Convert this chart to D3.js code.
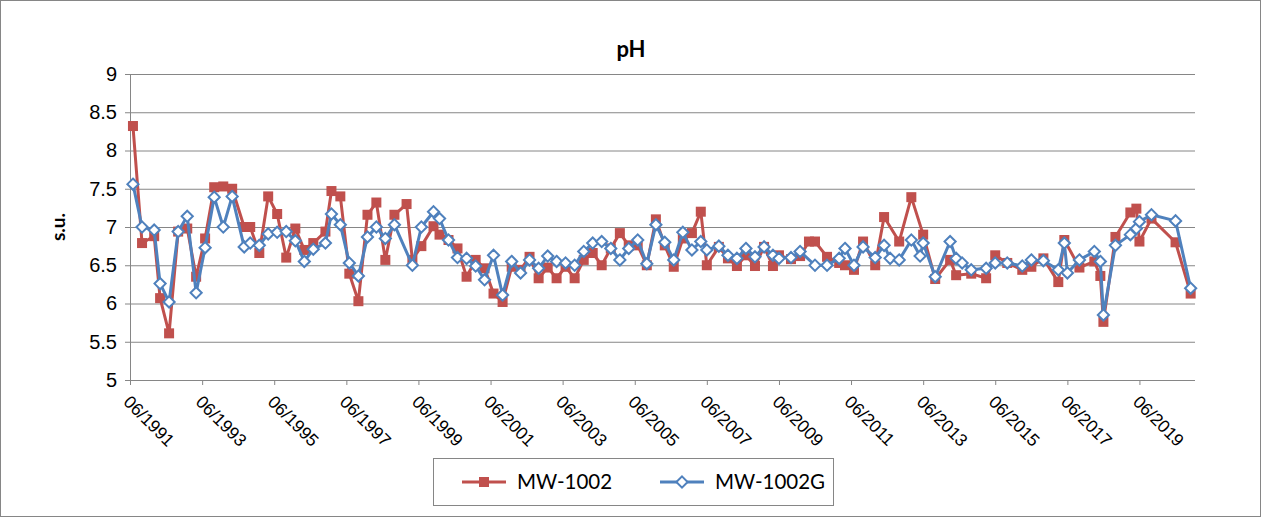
<!DOCTYPE html>
<html>
<head>
<meta charset="utf-8">
<script src="https://cdn.jsdelivr.net/npm/d3@7"></script>
<style>
	body { margin: 0; background: #fff; }
	svg { font-family: Lato, "Liberation Sans", sans-serif; }
</style>
</head>
<body>
<div id="chart"></div>
<script>
	// sample dates (year-month), shared by both wells; null = not sampled
	var sampleDates = [
		'1991-07','1991-10','1992-02','1992-04','1992-07','1992-10','1993-01','1993-04','1993-07','1993-10',
		'1994-01','1994-04','1994-08','1994-10','1995-01','1995-04','1995-07','1995-10','1996-01','1996-04',
		'1996-07','1996-11','1997-01','1997-04','1997-07','1997-10','1998-01','1998-04','1998-07','1998-10',
		'1999-02','1999-04','1999-07','1999-11','2000-01','2000-04','2000-07','2000-10','2001-01','2001-04',
		'2001-07','2001-10','2002-01','2002-04','2002-07','2002-10','2003-01','2003-04','2003-07','2003-10',
		'2004-01','2004-04','2004-07','2004-10','2005-01','2005-04','2005-07','2005-10','2006-01','2006-04',
		'2006-07','2006-10','2007-01','2007-04','2007-06','2007-10','2008-01','2008-04','2008-07','2008-10',
		'2009-01','2009-04','2009-06','2009-10','2010-01','2010-04','2010-06','2010-10','2011-02','2011-04',
		'2011-07','2011-10','2012-02','2012-05','2012-07','2012-10','2013-02','2013-05','2013-06','2013-10',
		'2014-03','2014-05','2014-07','2014-10','2015-03','2015-06','2015-10','2016-03','2016-06','2016-10',
		'2017-03','2017-05','2017-06','2017-10','2018-03','2018-05','2018-06','2018-10','2019-03','2019-05',
		'2019-06','2019-10','2020-06','2020-11'
	];

	var mw1002 = [
		8.32,6.79,6.88,6.07,5.61,6.94,6.98,6.35,6.85,7.52,
		7.53,7.50,7.00,7.00,6.66,7.40,7.17,6.60,6.98,6.70,
		6.79,6.94,7.47,7.40,6.39,6.03,7.16,7.32,6.57,7.16,
		7.30,6.57,6.75,7.01,6.90,6.83,6.72,6.35,6.57,6.46,
		6.13,6.02,6.48,6.44,6.61,6.33,6.47,6.33,6.48,6.33,
		6.57,6.66,6.50,6.72,6.92,6.76,6.76,6.50,7.10,6.76,
		6.48,6.85,6.92,7.20,6.50,6.74,6.59,6.49,6.63,6.49,
		6.74,6.49,6.63,6.58,6.62,6.81,6.81,6.61,6.53,6.50,
		6.44,6.81,6.50,7.13,null,6.81,7.39,null,6.90,6.32,
		6.57,6.37,null,6.39,6.33,6.63,6.53,6.44,6.48,6.59,
		6.28,6.83,null,6.47,6.55,6.36,5.76,6.87,7.19,7.24,
		6.81,7.11,6.80,6.13
	];

	var mw1002G = [
		7.56,7.00,6.96,6.26,6.02,6.94,7.14,6.14,6.73,7.39,
		7.00,7.40,6.74,6.79,6.76,6.91,6.93,6.94,6.82,6.55,
		6.71,6.79,7.17,7.03,6.53,6.36,6.87,7.00,6.85,7.03,
		null,6.50,7.00,7.20,7.11,6.83,6.60,6.59,6.49,6.31,
		6.63,6.11,6.55,6.40,6.57,6.46,6.62,6.55,6.53,6.50,
		6.68,6.79,6.81,6.72,6.57,6.72,6.83,6.52,7.03,6.80,
		6.57,6.93,6.70,6.81,6.70,6.75,6.63,6.59,6.72,6.61,
		6.74,6.63,6.59,6.60,6.68,null,6.50,6.50,6.59,6.72,
		6.50,6.74,6.60,6.76,6.59,6.57,6.83,6.62,6.79,6.35,
		6.81,6.59,6.53,6.44,6.46,6.53,6.53,6.49,6.57,6.56,
		6.44,6.79,6.40,6.57,6.68,6.55,5.85,6.76,6.90,6.98,
		7.07,7.16,7.08,6.20
	];

	var seriesNames = ['MW-1002', 'MW-1002G'];
	var yTicks = [5, 5.5, 6, 6.5, 7, 7.5, 8, 8.5, 9];
	var xTicks = ['06/1991','06/1993','06/1995','06/1997','06/1999','06/2001','06/2003','06/2005',
		'06/2007','06/2009','06/2011','06/2013','06/2015','06/2017','06/2019'];

(function() {
	var width = 1262,
		height = 518,
		plotLeft = 130,
		plotRight = 1195,
		plotTop = 74,
		plotBottom = 380,
		gray = '#868686',
		red = '#C0504D',
		blue = '#4F81BD';

	var parseMonth = d3.timeParse('%Y-%m'),
		parseTick = d3.timeParse('%m/%Y');

	var x = d3.scaleTime()
		.domain([new Date(1991, 5, 1), new Date(2020, 11, 15)])
		.range([plotLeft, plotRight]);

	var y = d3.scaleLinear()
		.domain([5, 9])
		.range([plotBottom, plotTop]);

	var svg = d3.select('#chart')
		.append('svg')
		.attr('width', width)
		.attr('height', height);

	svg.append('rect')
		.attr('x', 0.5)
		.attr('y', 0.5)
		.attr('width', width - 2)
		.attr('height', height - 2)
		.attr('fill', '#fff')
		.attr('stroke', gray);

	// gridlines + y axis
	var yAxis = svg.append('g')
		.attr('transform', 'translate(' + plotLeft + ',0)')
		.call(d3.axisLeft(y)
			.tickValues(yTicks)
			.tickSize(-(plotRight - plotLeft))
			.tickFormat(d3.format('')));
	yAxis.select('.domain').attr('stroke', gray);
	yAxis.selectAll('.tick line').attr('stroke', gray).attr('x1', -5);
	yAxis.selectAll('.tick text')
		.attr('x', -13)
		.attr('fill', '#000')
		.style('font-size', '20px');

	// x axis
	var xAxis = svg.append('g')
		.attr('transform', 'translate(0,' + plotBottom + ')')
		.call(d3.axisBottom(x)
			.tickValues(xTicks.map(parseTick))
			.tickSize(5)
			.tickFormat(d3.timeFormat('%m/%Y')));
	xAxis.select('.domain').attr('stroke', gray).attr('d', 'M' + plotLeft + ',0.5H' + plotRight);
	xAxis.selectAll('.tick line').attr('stroke', gray);
	xAxis.selectAll('.tick text')
		.attr('fill', '#000')
		.attr('text-anchor', 'start')
		.attr('x', 0)
		.attr('y', 0)
		.attr('dy', 0)
		.attr('transform', 'translate(-8,23) rotate(45)')
		.style('font-size', '17.5px');

	// title + axis title
	svg.append('text')
		.attr('x', 631)
		.attr('y', 57)
		.attr('text-anchor', 'middle')
		.style('font-size', '22px')
		.style('font-weight', 'bold')
		.text('pH');

	svg.append('text')
		.attr('transform', 'translate(65,' + ((plotTop + plotBottom) / 2) + ') rotate(-90)')
		.attr('text-anchor', 'middle')
		.style('font-size', '19px')
		.style('font-weight', 'bold')
		.text('s.u.');

	var line = d3.line()
		.x(function(d) { return x(d.date); })
		.y(function(d) { return y(d.value); });

	function points(values)
	{
		return sampleDates
			.map(function(d, i) { return { date: parseMonth(d), value: values[i] }; })
			.filter(function(d) { return d.value != null; });
	}

	var redData = points(mw1002),
		blueData = points(mw1002G);

	var diamond = d3.symbol().type(d3.symbolDiamond2).size(80);

	// MW-1002
	svg.append('path')
		.attr('d', line(redData))
		.attr('fill', 'none')
		.attr('stroke', red)
		.attr('stroke-width', 3)
		.attr('stroke-linejoin', 'round');

	svg.append('g')
		.selectAll('rect')
		.data(redData)
		.enter()
		.append('rect')
		.attr('x', function(d) { return x(d.date) - 5; })
		.attr('y', function(d) { return y(d.value) - 5; })
		.attr('width', 10)
		.attr('height', 10)
		.attr('fill', red);

	// MW-1002G
	svg.append('path')
		.attr('d', line(blueData))
		.attr('fill', 'none')
		.attr('stroke', blue)
		.attr('stroke-width', 3)
		.attr('stroke-linejoin', 'round');

	svg.append('g')
		.selectAll('path')
		.data(blueData)
		.enter()
		.append('path')
		.attr('d', diamond)
		.attr('transform', function(d) {
			return 'translate(' + x(d.date) + ',' + y(d.value) + ')';
		})
		.attr('fill', '#fff')
		.attr('stroke', blue)
		.attr('stroke-width', 2);

	// legend
	var legend = svg.append('g');
	legend.append('rect')
		.attr('x', 433.5)
		.attr('y', 458.5)
		.attr('width', 400)
		.attr('height', 47)
		.attr('fill', '#fff')
		.attr('stroke', gray);

	var items = legend.selectAll('.item')
		.data(seriesNames)
		.enter()
		.append('g')
		.attr('transform', function(d, i) { return 'translate(' + (462 + i * 198) + ',482)'; });

	items.append('line')
		.attr('x1', 0)
		.attr('x2', 44)
		.attr('stroke', function(d, i) { return i ? blue : red; })
		.attr('stroke-width', 3);

	items.each(function(d, i) {
		var g = d3.select(this);
		if (i) {
			g.append('path')
				.attr('d', diamond)
				.attr('transform', 'translate(22,0)')
				.attr('fill', '#fff')
				.attr('stroke', blue)
				.attr('stroke-width', 2);
		} else {
			g.append('rect')
				.attr('x', 17)
				.attr('y', -5)
				.attr('width', 10)
				.attr('height', 10)
				.attr('fill', red);
		}
	});

	items.append('text')
		.attr('x', 55)
		.attr('y', 7)
		.style('font-size', '20.5px')
		.text(function(d) { return d; });
})();
</script>
</body>
</html>
